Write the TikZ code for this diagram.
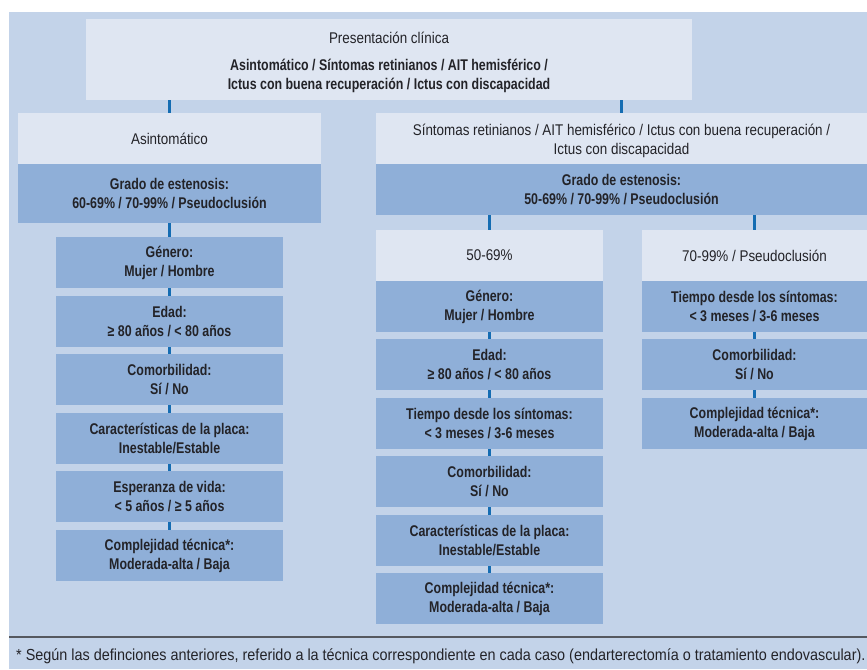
\documentclass[tikz,border=0pt]{standalone}
\usepackage{fontspec}
\setmainfont[FakeStretch=0.865,BoldFeatures={FakeStretch=0.80}]{Liberation Sans}
\newfontfamily\footfont[FakeStretch=0.9]{Liberation Sans}
\definecolor{bgc}{RGB}{195,211,233}
\definecolor{lightc}{RGB}{223,230,242}
\definecolor{darkc}{RGB}{143,175,216}
\definecolor{linkc}{RGB}{20,108,178}
\definecolor{rulec}{RGB}{85,88,95}
\definecolor{txtc}{RGB}{35,35,40}
\tikzset{
  basebox/.style={rectangle, inner sep=0pt, outer sep=0pt, anchor=north west, align=center,
    text=txtc, font=\fontsize{15.5}{19}\selectfont},
  headbox/.style={basebox, fill=lightc},
  databox/.style={basebox, fill=darkc, font=\fontsize{15.5}{19}\selectfont\bfseries},
  link/.style={draw=linkc, line width=2.6pt},
}
\newcommand{\bx}[7]{% style, name, x1, y1, x2, y2, text
  \node[#1, minimum width=#5pt-#3pt, minimum height=#6pt-#4pt] (#2) at (#3pt,-#4pt) {#7};}
\begin{document}
\begin{tikzpicture}[x=1pt,y=1pt]
\useasboundingbox (0,0) rectangle (867,-669);
\fill[bgc] (9,-12) rectangle (867,-669);
% top
\bx{headbox}{top}{86}{19}{692}{100}{\rule{0pt}{18pt}Presentación clínica\\[8pt]\textbf{Asintomático / Síntomas retinianos / AIT hemisférico /}\\\textbf{Ictus con buena recuperación / Ictus con discapacidad}}
% left branch
\bx{headbox}{ah}{18}{113}{321}{164}{Asintomático}
\bx{databox}{ag}{18}{164}{321}{223}{Grado de estenosis:\\60-69\% / 70-99\% / Pseudoclusión}
\bx{databox}{l1}{56}{237}{283}{288}{Género:\\Mujer / Hombre}
\bx{databox}{l2}{56}{296}{283}{347}{Edad:\\≥ 80 años / < 80 años}
\bx{databox}{l3}{56}{354}{283}{405}{Comorbilidad:\\Sí / No}
\bx{databox}{l4}{56}{413}{283}{464}{Características de la placa:\\Inestable/Estable}
\bx{databox}{l5}{56}{471}{283}{522}{Esperanza de vida:\\< 5 años / ≥ 5 años}
\bx{databox}{l6}{56}{530}{283}{581}{Complejidad técnica*:\\Moderada-alta / Baja}
% right branch
\bx{headbox}{sh}{376}{113}{867}{164}{\rule{0pt}{16pt}Síntomas retinianos / AIT hemisférico / Ictus con buena recuperación /\\Ictus con discapacidad}
\bx{databox}{sg}{376}{164}{867}{215}{Grado de estenosis:\\50-69\% / 70-99\% / Pseudoclusión}
% middle column
\bx{headbox}{mh}{376}{230}{603}{281}{50-69\%}
\bx{databox}{m1}{376}{281}{603}{332}{Género:\\Mujer / Hombre}
\bx{databox}{m2}{376}{339}{603}{390}{Edad:\\≥ 80 años / < 80 años}
\bx{databox}{m3}{376}{398}{603}{449}{Tiempo desde los síntomas:\\< 3 meses / 3-6 meses}
\bx{databox}{m4}{376}{456}{603}{507}{Comorbilidad:\\Sí / No}
\bx{databox}{m5}{376}{515}{603}{566}{Características de la placa:\\Inestable/Estable}
\bx{databox}{m6}{376}{573}{603}{624}{Complejidad técnica*:\\Moderada-alta / Baja}
% right column
\bx{headbox}{rh}{642}{230}{867}{281}{70-99\% / Pseudoclusión}
\bx{databox}{r1}{642}{281}{867}{332}{Tiempo desde los síntomas:\\< 3 meses / 3-6 meses}
\bx{databox}{r2}{642}{339}{867}{390}{Comorbilidad:\\Sí / No}
\bx{databox}{r3}{642}{398}{867}{449}{Complejidad técnica*:\\Moderada-alta / Baja}
% connectors
\draw[link] (top.south -| ah.north) -- (ah.north);
\draw[link] (top.south -| sh.north) -- (sh.north);
\draw[link] (ag.south -| l1.north) -- (l1.north);
\foreach \a/\b in {l1/l2,l2/l3,l3/l4,l4/l5,l5/l6,m1/m2,m2/m3,m3/m4,m4/m5,m5/m6,r1/r2,r2/r3}
  \draw[link] (\a.south) -- (\b.north);
\draw[link] (sg.south -| mh.north) -- (mh.north);
\draw[link] (sg.south -| rh.north) -- (rh.north);
% footer
\coordinate (fl) at (9,-637);
\coordinate (fr) at (867,-637);
\draw[rulec, line width=1.3pt] (fl) -- (fr);
\node[anchor=west, inner sep=0pt, text=txtc, font=\fontsize{16}{18}\footfont] (foot) at (16,-656) {* Según las definciones anteriores, referido a la técnica correspondiente en cada caso (endarterectomía o tratamiento endovascular).};
\end{tikzpicture}
\end{document}
